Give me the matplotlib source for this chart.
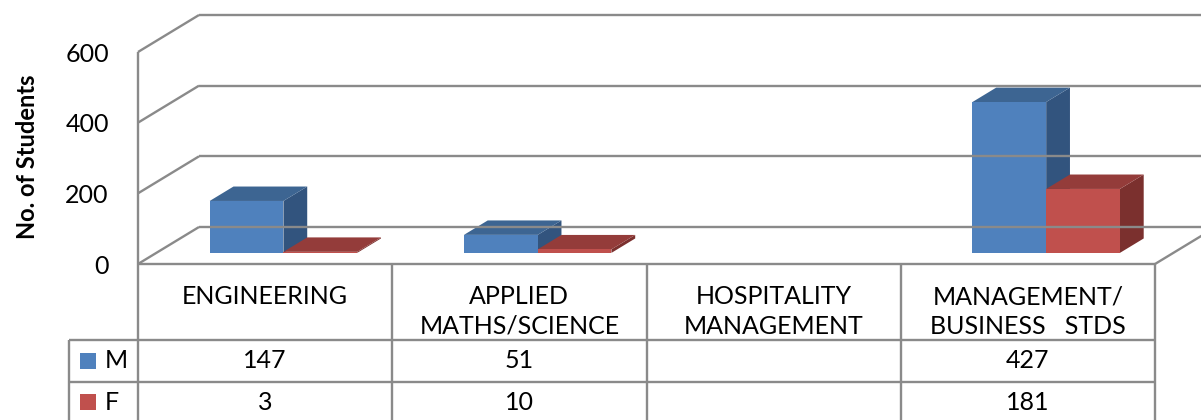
# 3D-style clustered column chart with a data table underneath
import matplotlib
matplotlib.use('Agg')
import matplotlib.pyplot as plt
from matplotlib.patches import Polygon, Rectangle
import numpy as np

# data
categories = ['ENGINEERING', 'APPLIED\nMATHS/SCIENCE', 'HOSPITALITY\nMANAGEMENT', 'MANAGEMENT/\nBUSINESS   STDS']
series_names = ['M', 'F']
male = [147, 51, np.nan, 427]
female = [3, 10, np.nan, 181]
y_ticks = [0, 200, 400, 600]

front_colours = ['#4F81BD', '#C0504D']
top_colours = ['#3D6592', '#943C3A']
side_colours = ['#32547E', '#7B302E']
grid_colour = '#8A8A8A'

plt.rcParams['font.family'] = ['Lato', 'DejaVu Sans']

W, H = 1201, 420
plot_left, plot_right = 138, 1155     # front plane, pixels
floor_y, top_y = 264, 52              # pixel rows of 0 and 600
depth_px = (61, 37)                   # oblique offset of the back wall

n = len(categories)
col_w = (plot_right - plot_left) / n

fig = plt.figure(figsize=(W / 100, H / 100), dpi=100)
ax = fig.add_axes([plot_left / W, 1 - floor_y / H,
                   (plot_right - plot_left) / W, (floor_y - top_y) / H])
ax.set_xlim(0, n)
ax.set_ylim(0, 600)
for s in ax.spines.values():
    s.set_visible(False)
ax.set_xticks([])
ax.set_yticks(y_ticks)
ax.tick_params(axis='y', length=0, pad=21, labelsize=18)
ax.set_ylabel('No. of Students', fontsize=17, fontweight='bold')
ax.yaxis.set_label_coords(-0.097, 0.505)

# depth offsets in data units
ddx = depth_px[0] / (plot_right - plot_left) * n
ddy = depth_px[1] / (floor_y - top_y) * 600

line_kw = dict(color=grid_colour, lw=1.7, clip_on=False, solid_capstyle='butt')
for v in y_ticks:
    ax.plot([ddx, n + ddx], [v + ddy, v + ddy], **line_kw)   # back wall
    ax.plot([0, ddx], [v, v + ddy], **line_kw)               # side wall
ax.plot([0, 0], [0, 600], **line_kw)
ax.plot([n, n + ddx], [0, ddy], **line_kw)


def draw_bar(x0, width, h, z0, z1, k):
    ox0, oy0 = z0 * ddx, z0 * ddy
    ox1, oy1 = z1 * ddx, z1 * ddy
    xa, xb = x0 + ox0, x0 + width + ox0
    front = [(xa, oy0), (xb, oy0), (xb, h + oy0), (xa, h + oy0)]
    top = [(xa, h + oy0), (xb, h + oy0), (x0 + width + ox1, h + oy1), (x0 + ox1, h + oy1)]
    side = [(xb, oy0), (x0 + width + ox1, oy1), (x0 + width + ox1, h + oy1), (xb, h + oy0)]
    ax.add_patch(Polygon(side, closed=True, fc=side_colours[k], ec='none', clip_on=False))
    ax.add_patch(Polygon(top, closed=True, fc=top_colours[k], ec='none', clip_on=False))
    ax.add_patch(Polygon(front, closed=True, fc=front_colours[k], ec='none', clip_on=False))


bar_w = 0.29
for i in range(n):
    for k, vals in enumerate([male, female]):
        if np.isnan(vals[i]):
            continue
        x0 = i + 0.5 - bar_w + k * bar_w
        draw_bar(x0, bar_w, vals[i], 0.3, 0.69, k)

# data table, drawn in pixel space
tab = fig.add_axes([0, 0, 1, 1])
tab.set_xlim(0, W)
tab.set_ylim(H, 0)
tab.axis('off')
tab.patch.set_alpha(0)

head_bot, row1_bot, row2_bot = 340, 382, 424
legend_left = 69
edges = [plot_left + j * col_w for j in range(n + 1)]
tab.plot([plot_left, plot_right], [floor_y, floor_y], **line_kw)
for y in [head_bot, row1_bot, row2_bot]:
    tab.plot([legend_left, plot_right], [y, y], **line_kw)
for x in edges:
    tab.plot([x, x], [floor_y, row2_bot], **line_kw)
tab.plot([legend_left, legend_left], [head_bot, row2_bot], **line_kw)

fs = 18
for j, cat in enumerate(categories):
    cx = (edges[j] + edges[j + 1]) / 2
    for li, line in enumerate(cat.split('\n')):
        tab.text(cx, 297 + li * 29, line, ha='center', va='center', fontsize=fs)

row_centres = [(head_bot + row1_bot) / 2, (row1_bot + row2_bot) / 2 - 1]
for k, (name, vals) in enumerate(zip(series_names, [male, female])):
    yc = row_centres[k]
    tab.add_patch(Rectangle((80, yc - 8), 16, 16, fc=front_colours[k], ec='none'))
    tab.text(105, yc, name, ha='left', va='center', fontsize=fs)
    for j, v in enumerate(vals):
        if np.isnan(v):
            continue
        cx = (edges[j] + edges[j + 1]) / 2
        tab.text(cx, yc, str(int(v)), ha='center', va='center', fontsize=fs)

fig.savefig('out.png', dpi=100)
